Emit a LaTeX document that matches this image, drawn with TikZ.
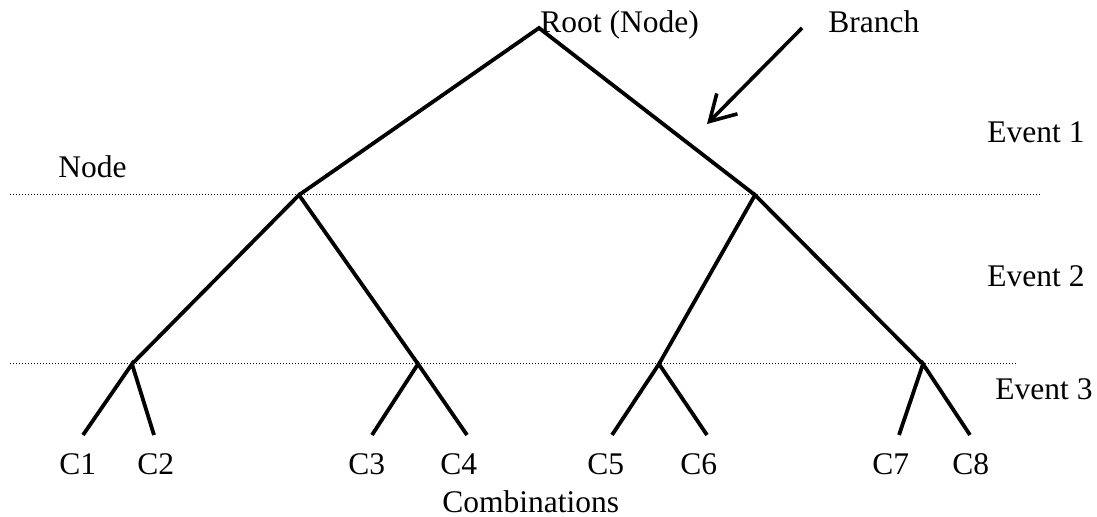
\documentclass[tikz,border=0pt]{standalone}
\usepackage{fontspec}
\setmainfont{Liberation Serif}
\usetikzlibrary{arrows.meta}
\begin{document}
\begin{tikzpicture}[x=0.5pt,y=-0.5pt,
  branch/.style={line width=1.9pt, line join=miter},
  level/.style={line width=0.5pt, dash pattern=on 0.5pt off 1pt},
  lbl/.style={anchor=base west, inner sep=0pt, font=\fontsize{15.75}{18}\selectfont},
  pointer/.style={line width=1.8pt, -{Straight Barb[length=12.5pt,width=14.5pt,line width=1.8pt]}}]
\useasboundingbox (0,0) rectangle (1097,517);
% dotted level lines
\coordinate (d1a) at (10,195); \coordinate (d1b) at (1042,195);
\coordinate (d2a) at (10,364); \coordinate (d2b) at (1018,364);
\draw[level] (d1a) -- (d1b);
\draw[level] (d2a) -- (d2b);
% tree points
\coordinate (r) at (539,28);
\coordinate (a) at (299,195);
\coordinate (b) at (755,195);
\coordinate (aa) at (132,364);
\coordinate (ab) at (418,364);
\coordinate (ba) at (659,364);
\coordinate (bb) at (923,364);
\coordinate (l1) at (83,435);
\coordinate (l2) at (154,435);
\coordinate (l3) at (372,435);
\coordinate (l4) at (467,435);
\coordinate (l5) at (612,435);
\coordinate (l6) at (707,435);
\coordinate (l7) at (899,435);
\coordinate (l8) at (970,435);
\draw[branch] (a) -- (r) -- (b);
\draw[branch] (aa) -- (a) -- (ab);
\draw[branch] (ba) -- (b) -- (bb);
\draw[branch] (l1) -- (aa) -- (l2);
\draw[branch] (l3) -- (ab) -- (l4);
\draw[branch] (l5) -- (ba) -- (l6);
\draw[branch] (l7) -- (bb) -- (l8);
% branch pointer
\coordinate (bs) at (802,28);
\coordinate (bt) at (707,124);
\draw[pointer] (bs) -- (bt);
% labels
\node[lbl] (troot) at (540,33) {Root (Node)};
\node[lbl] (tbranch) at (828,33) {Branch};
\node[lbl] (tnode) at (58,178) {Node};
\node[lbl] (te1) at (987,143) {Event 1};
\node[lbl] (te2) at (987,287) {Event 2};
\node[lbl] (te3) at (995,400) {Event 3};
\node[lbl] (c1) at (59,475) {C1};
\node[lbl] (c2) at (137,475) {C2};
\node[lbl] (c3) at (348,475) {C3};
\node[lbl] (c4) at (440,475) {C4};
\node[lbl] (c5) at (587,475) {C5};
\node[lbl] (c6) at (680,475) {C6};
\node[lbl] (c7) at (872,475) {C7};
\node[lbl] (c8) at (952,475) {C8};
\node[lbl] (comb) at (442,513) {Combinations};
\end{tikzpicture}
\end{document}
